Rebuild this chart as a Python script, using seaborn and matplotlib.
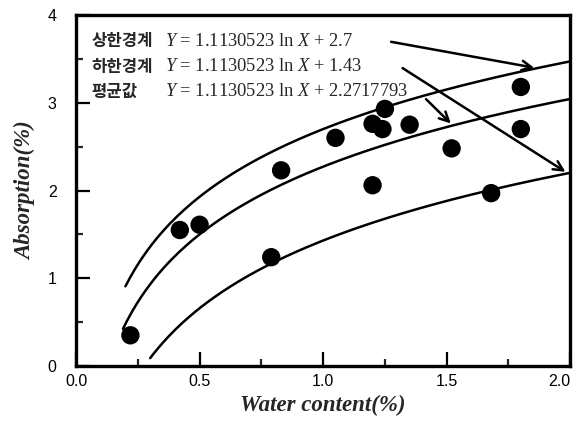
import numpy as np
import pandas as pd
import matplotlib
matplotlib.use("Agg")
import matplotlib.pyplot as plt
import seaborn as sns

# ---- data ----
water = [0.22, 0.42, 0.50, 0.79, 0.83, 1.05, 1.25, 1.20, 1.24, 1.35, 1.20, 1.52, 1.68, 1.80, 1.80]
absorp = [0.35, 1.55, 1.61, 1.24, 2.23, 2.60, 2.93, 2.76, 2.70, 2.75, 2.06, 2.48, 1.97, 3.18, 2.70]

coef = 1.1130523
intercepts = {"upper": 2.7, "lower": 1.43, "mean": 2.2717793}
curve_start = {"upper": 0.20, "lower": 0.30, "mean": 0.19}
curve_end = 2.0

labels_kr = ["상한경계", "하한경계", "평균값"]
labels_eq = [r"$Y$ = 1.1130523 ln $X$ + 2.7",
             r"$Y$ = 1.1130523 ln $X$ + 1.43",
             r"$Y$ = 1.1130523 ln $X$ + 2.2717793"]

xticks = [0.0, 0.5, 1.0, 1.5, 2.0]
xticklabels = ["0.0", "0.5", "1.0", "1.5", "2.0"]
yticks = [0, 1, 2, 3, 4]

sns.set_theme(style="ticks")
plt.rcParams["font.family"] = ["Liberation Sans", "DejaVu Sans"]
plt.rcParams["mathtext.fontset"] = "custom"
plt.rcParams["mathtext.rm"] = "Liberation Serif"
plt.rcParams["mathtext.it"] = "Liberation Serif:italic"

fig = plt.figure(figsize=(5.76, 4.26), dpi=100)
ax = fig.add_axes([0.132, 0.1408, 0.858, 0.824])

# curves from the equations shown in the chart
for key in ["upper", "mean", "lower"]:
    xs = np.linspace(curve_start[key], curve_end, 200)
    ys = coef * np.log(xs) + intercepts[key]
    sns.lineplot(x=xs, y=ys, ax=ax, color="black", linewidth=1.8, sort=False)

df = pd.DataFrame({"water": water, "absorp": absorp})
sns.scatterplot(data=df, x="water", y="absorp", ax=ax, color="black",
                s=175, edgecolor="none", zorder=5)

ax.set_xlim(0, 2.0)
ax.set_ylim(0, 4)
ax.set_xticks(xticks)
ax.set_xticklabels(xticklabels)
ax.set_yticks(yticks)
ax.set_xticks(np.arange(0.25, 2.0, 0.5), minor=True)
ax.set_yticks(np.arange(0.5, 4.0, 1.0), minor=True)
ax.tick_params(axis="both", which="major", direction="in", length=10, width=1.6,
               labelsize=11.5, colors="black")
ax.tick_params(axis="both", which="minor", direction="in", length=5, width=1.6)
ax.tick_params(axis="x", which="major", pad=6)
ax.tick_params(axis="y", which="major", pad=14)
# last x label sits right-aligned so that it stays inside the figure
ax.get_xticklabels()[-1].set_horizontalalignment("right")
for s in ax.spines.values():
    s.set_visible(True)
    s.set_linewidth(2.4)
    s.set_color("black")

lab_font = dict(family=["Liberation Serif"], style="italic", weight="bold", size=16.5)
ax.set_xlabel("Water content(%)", labelpad=4, **lab_font)
ax.set_ylabel("Absorption(%)", labelpad=8, **lab_font)

# legend-like equations
ys_txt = [0.925, 0.853, 0.782]
for kr, eq, yy in zip(labels_kr, labels_eq, ys_txt):
    ax.text(0.031, yy, kr, transform=ax.transAxes, ha="left", va="center",
            family=["Noto Sans CJK KR"], weight="bold", size=12)
    ax.text(0.180, yy, eq, transform=ax.transAxes, ha="left", va="center",
            family=["Liberation Serif"], size=13.3)

# arrows from the text to the curves
arrow_kw = dict(arrowstyle="->", color="black", lw=1.8, mutation_scale=17)
arrow_specs = [
    ((0.632, 0.925), "upper", 1.865),
    ((0.656, 0.853), "lower", 1.99),
    ((0.704, 0.766), "mean", 1.525),
]
for start, key, xt in arrow_specs:
    yt = coef * np.log(xt) + intercepts[key]
    ax.annotate("", xy=(xt, yt), xycoords="data", xytext=start,
                textcoords="axes fraction", arrowprops=arrow_kw)

fig.savefig("out.png", dpi=100)
